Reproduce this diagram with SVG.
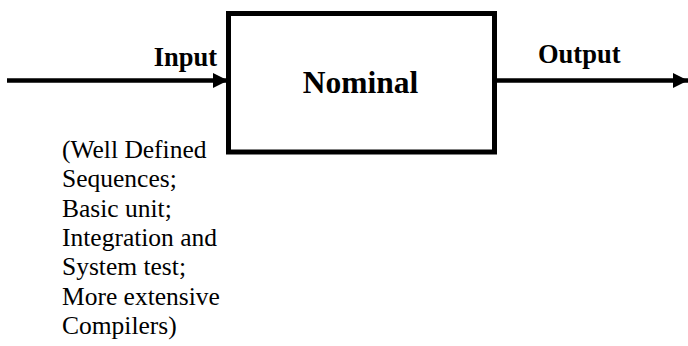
<svg xmlns="http://www.w3.org/2000/svg" width="688" height="346" viewBox="0 0 688 346">
<style>
.b{font-family:"Liberation Serif","Times New Roman",serif;font-weight:bold;fill:#000}
.t{font-family:"Liberation Serif","Times New Roman",serif;font-size:25.5px;fill:#000}
.c{stroke:#000;stroke-width:4.5;fill:none}
</style>
<defs>
<marker id="ah" markerWidth="16" markerHeight="16" refX="15" refY="7.5" orient="auto" markerUnits="userSpaceOnUse">
<path d="M0,0 L15,7.5 L0,15 Z" fill="#000"/>
</marker>
</defs>
<rect width="688" height="346" fill="#fff"/>
<g id="connectors">
<line class="c" x1="7" y1="80.5" x2="228" y2="80.5" marker-end="url(#ah)"/>
<line class="c" x1="497" y1="80.5" x2="688" y2="80.5" marker-end="url(#ah)"/>
</g>
<g id="nominal">
<rect x="228.5" y="13.5" width="266" height="138.5" fill="#fff" stroke="#000" stroke-width="5"/>
<text class="b" x="360.5" y="93" font-size="31.5" text-anchor="middle">Nominal</text>
</g>
<g id="labels">
<text class="b" x="217" y="66" font-size="26.5" text-anchor="end">Input</text>
<text class="b" x="538" y="63" font-size="26.5">Output</text>
<text class="t" x="62" y="158">(Well Defined</text>
<text class="t" x="62" y="187.3">Sequences;</text>
<text class="t" x="62" y="216.6">Basic unit;</text>
<text class="t" x="62" y="245.9">Integration and</text>
<text class="t" x="62" y="275.2">System test;</text>
<text class="t" x="62" y="304.5">More extensive</text>
<text class="t" x="62" y="333.8">Compilers)</text>
</g>
</svg>
